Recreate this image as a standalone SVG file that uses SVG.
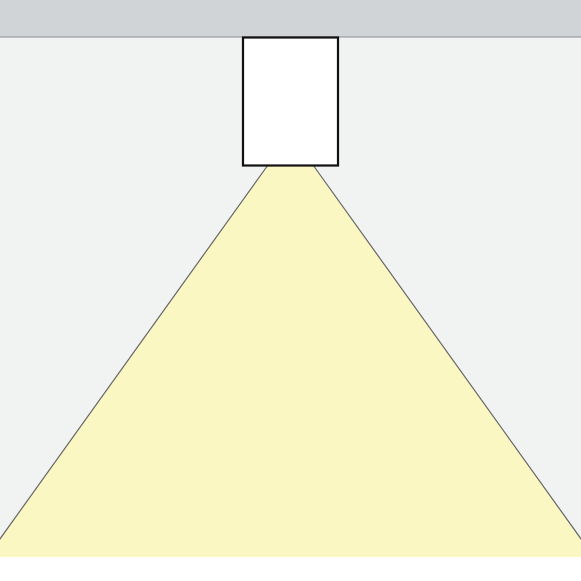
<svg xmlns="http://www.w3.org/2000/svg" width="581" height="581" viewBox="0 0 581 581">
<defs>
<style>
.ceiling{fill:#d1d4d7}
.wall{fill:#f1f2f2}
.beam{fill:#fbf7c3;stroke:none}
.edge{stroke:#666;stroke-width:1.2;fill:none}
.fixture{fill:#fff;stroke:#111;stroke-width:2.2}
</style>
<clipPath id="c"><rect x="0" y="0" width="581" height="557"/></clipPath>
</defs>
<rect x="0" y="0" width="581" height="581" fill="#fff"/>
<rect class="wall" x="0" y="37" width="581" height="520"/>
<rect class="ceiling" x="0" y="0" width="581" height="37"/>
<line x1="0" y1="37" x2="581" y2="37" stroke="#8a8c8e" stroke-width="1"/>
<g id="beam" clip-path="url(#c)">
<polygon class="beam" points="268,165 313,165 594,557 -13,557"/>
<line class="edge" x1="268" y1="165" x2="-13" y2="557"/>
<line class="edge" x1="313" y1="165" x2="594" y2="557"/>
</g>
<g id="fixture">
<rect class="fixture" x="243" y="37.5" width="95" height="128"/>
</g>
</svg>
